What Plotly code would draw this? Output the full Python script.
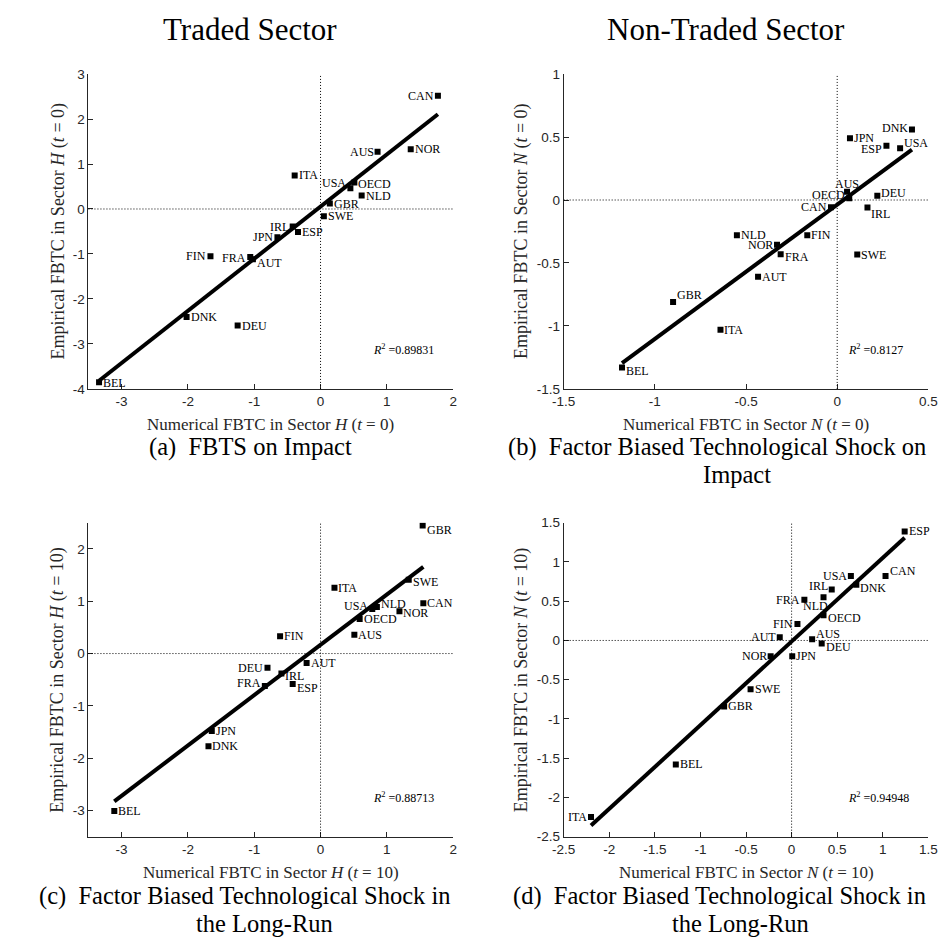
import numpy as np
import plotly.graph_objects as go

# ---------------- data ----------------
countries = ["AUS", "AUT", "BEL", "CAN", "DEU", "DNK", "ESP", "FIN", "FRA",
             "GBR", "IRL", "ITA", "JPN", "NLD", "NOR", "SWE", "USA", "OECD"]

# (a) Traded sector H, t = 0
num_H0 = [0.86, -1.02, -3.34, 1.77, -1.25, -2.02, -0.34, -1.66, -1.06,
          0.14, -0.42, -0.39, -0.65, 0.62, 1.36, 0.05, 0.45, 0.51]
emp_H0 = [1.27, -1.12, -3.85, 2.52, -2.59, -2.40, -0.51, -1.05, -1.07,
          0.12, -0.39, 0.745, -0.63, 0.30, 1.33, -0.16, 0.46, 0.59]

# (b) Non-traded sector N, t = 0
num_N0 = [0.054, -0.434, -1.18, -0.034, 0.22, 0.41, 0.27, -0.164, -0.31,
          -0.90, 0.166, -0.64, 0.07, -0.55, -0.33, 0.11, 0.345, 0.066]
emp_N0 = [0.065, -0.61, -1.33, -0.057, 0.034, 0.56, 0.43, -0.28, -0.43,
          -0.81, -0.06, -1.03, 0.49, -0.28, -0.355, -0.433, 0.41, 0.013]

# (c) Traded sector H, t = 10
num_H10 = [0.51, -0.21, -3.11, 1.55, -0.80, -1.69, -0.42, -0.61, -0.84,
           1.54, -0.59, 0.21, -1.64, 0.85, 1.19, 1.33, 0.78, 0.59]
emp_H10 = [0.36, -0.18, -3.01, 0.96, -0.27, -1.77, -0.58, 0.33, -0.62,
           2.45, -0.38, 1.26, -1.48, 0.89, 0.81, 1.41, 0.85, 0.66]

# (d) Non-traded sector N, t = 10
num_N10 = [0.225, -0.13, -1.27, 1.03, 0.33, 0.71, 1.24, 0.064, 0.14,
           -0.74, 0.44, -2.20, 0.007, 0.35, -0.23, -0.45, 0.65, 0.35]
emp_N10 = [0.017, 0.04, -1.58, 0.82, -0.04, 0.71, 1.39, 0.21, 0.52,
           -0.84, 0.65, -2.25, -0.20, 0.55, -0.20, -0.62, 0.82, 0.32]

r2_values = ["0.89831", "0.8127", "0.88713", "0.94948"]

ticks_H_x = [-3, -2, -1, 0, 1, 2]
ticks_H0_y = [-4, -3, -2, -1, 0, 1, 2, 3]
ticks_N0 = [-1.5, -1, -0.5, 0, 0.5, 1]
ticks_H10_y = [-3, -2, -1, 0, 1, 2]
ticks_N10 = [-2.5, -2, -1.5, -1, -0.5, 0, 0.5, 1, 1.5]

titles = ["Traded Sector", "Non-Traded Sector"]
captions = [
    ["(a)  FBTS on Impact"],
    ["(b)  Factor Biased Technological Shock on", "Impact"],
    ["(c)  Factor Biased Technological Shock in", "the Long-Run"],
    ["(d)  Factor Biased Technological Shock in", "the Long-Run"],
]

# ---------------- style ----------------
W, H = 946, 939
SERIF = "Liberation Serif, Times New Roman, serif"
SANS = "Liberation Sans, Arial, sans-serif"
AXC = "#262626"


def px(x):
    return x / W


def py(y):
    return 1 - y / H


# label placement: side (L/R/C/LB) and vertical shift in px
place = [
    {"CAN": ("L", 0), "AUS": ("L", 0), "USA": ("L", 5), "IRL": ("L", 0),
     "JPN": ("L", 0), "FIN": ("L", 0), "FRA": ("L", -1), "OECD": ("R", -2),
     "AUT": ("R", -4), "BEL": ("R", -1)},
    {"DNK": ("L", 1), "ESP": ("L", -3), "OECD": ("L", 3), "CAN": ("L", 0),
     "NOR": ("L", 0), "USA": ("R", 5), "DEU": ("R", 3), "IRL": ("R", -6),
     "FRA": ("R", -3), "GBR": ("R", 7), "BEL": ("R", -3), "AUS": ("C", 8)},
    {"USA": ("L", 3), "DEU": ("L", 0), "FRA": ("L", 3), "GBR": ("R", -5),
     "SWE": ("R", -2), "NLD": ("R", 3), "NOR": ("R", -2), "IRL": ("R", -3),
     "ESP": ("R", -4)},
    {"USA": ("L", 0), "IRL": ("L", 3), "FRA": ("L", 0), "FIN": ("L", 0),
     "AUT": ("L", 0), "NOR": ("L", 0), "ITA": ("L", 0), "CAN": ("R", 5),
     "DNK": ("R", -3), "OECD": ("R", -3), "AUS": ("R", 5), "DEU": ("R", -3),
     "NLD": ("LB", -9)},
]

panels = [
    dict(x=num_H0, y=emp_H0, xr=[-3.5, 2], yr=[-4, 3], xt=ticks_H_x, yt=ticks_H0_y,
         sec="H", t="0", dx=(70, 443), dy=(60, 380), ytx=39),
    dict(x=num_N0, y=emp_N0, xr=[-1.5, 0.5], yr=[-1.5, 1], xt=ticks_N0[:-1], yt=ticks_N0,
         sec="N", t="0", dx=(556, 929), dy=(60, 380), ytx=513),
    dict(x=num_H10, y=emp_H10, xr=[-3.5, 2], yr=[-3.5, 2.5], xt=ticks_H_x, yt=ticks_H10_y,
         sec="H", t="10", dx=(70, 443), dy=(516, 835), ytx=39),
    dict(x=num_N10, y=emp_N10, xr=[-2.5, 1.5], yr=[-2.5, 1.5], xt=ticks_N10, yt=ticks_N10,
         sec="N", t="10", dx=(556, 929), dy=(516, 835), ytx=513),
]


def fmt(v):
    return ("%g" % v)


fig = go.Figure()
annotations = []
shapes = []
layout_axes = {}

for i, p in enumerate(panels):
    n = "" if i == 0 else str(i + 1)
    xa, ya = "x" + n, "y" + n
    xs = np.array(p["x"], dtype=float)
    ys = np.array(p["y"], dtype=float)

    fig.add_trace(go.Scatter(
        x=xs, y=ys, mode="markers", xaxis=xa, yaxis=ya,
        marker=dict(symbol="square", size=6, color="black"),
        showlegend=False, hoverinfo="skip"))

    slope, icpt = np.polyfit(xs, ys, 1)
    lx = np.array([xs.min(), xs.max()])
    fig.add_trace(go.Scatter(
        x=lx, y=slope * lx + icpt, mode="lines", xaxis=xa, yaxis=ya,
        line=dict(color="black", width=4), showlegend=False, hoverinfo="skip"))

    # dotted zero lines
    shapes.append(dict(type="line", xref=xa, yref=ya + " domain", x0=0, x1=0, y0=0, y1=1,
                       line=dict(color="black", width=1, dash="1px,2px")))
    shapes.append(dict(type="line", xref=xa + " domain", yref=ya, x0=0, x1=1, y0=0, y1=0,
                       line=dict(color="black", width=1, dash="1px,2px")))

    # country labels
    for c, xv, yv in zip(countries, xs, ys):
        side, dyp = place[i].get(c, ("R", 0))
        if side == "R":
            anc, sh = "left", 3
        elif side == "L":
            anc, sh = "right", -3
        elif side == "C":
            anc, sh = "center", 0
        else:
            anc, sh = "right", 5
        annotations.append(dict(
            x=xv, y=yv, xref=xa, yref=ya, text=c, showarrow=False,
            xanchor=anc, yanchor="middle", xshift=sh, yshift=dyp,
            font=dict(family=SERIF, size=12, color="black"), borderpad=0))

    # R^2
    annotations.append(dict(
        x=0.775, y=0.125, xref=xa + " domain", yref=ya + " domain",
        text="<i>R</i><sup>2</sup> =" + r2_values[i], showarrow=False,
        xanchor="left", yanchor="middle",
        font=dict(family=SERIF, size=12, color="black")))

    # axis titles
    sec_t = "<i>%s</i> (<i>t</i> = %s)" % (p["sec"], p["t"])
    annotations.append(dict(
        x=px((p["dx"][0] + p["dx"][1]) / 2), y=py(p["dy"][1] + 36), xref="paper", yref="paper",
        text="Numerical FBTC in Sector " + sec_t, showarrow=False,
        xanchor="center", yanchor="middle",
        font=dict(family=SERIF, size=17, color=AXC)))
    annotations.append(dict(
        x=px(p["ytx"]), y=py((p["dy"][0] + p["dy"][1]) / 2), xref="paper", yref="paper",
        text="Empirical FBTC in Sector " + sec_t, showarrow=False, textangle=-90,
        xanchor="center", yanchor="middle",
        font=dict(family=SERIF, size=18, color=AXC)))

    axcommon = dict(showline=True, linecolor=AXC, linewidth=1, ticks="inside",
                    ticklen=5, tickcolor=AXC, tickwidth=1, showgrid=False,
                    zeroline=False, mirror=False,
                    tickfont=dict(family=SANS, size=13.5, color=AXC))
    layout_axes["xaxis" + n] = dict(
        axcommon, range=p["xr"], anchor=ya,
        domain=[px(p["dx"][0]), px(p["dx"][1])],
        tickvals=p["xt"], ticktext=[fmt(v) for v in p["xt"]])
    layout_axes["yaxis" + n] = dict(
        axcommon, range=p["yr"], anchor=xa,
        domain=[py(p["dy"][1]), py(p["dy"][0])],
        tickvals=p["yt"], ticktext=[fmt(v) for v in p["yt"]])

# panel captions
cap_pos = [(236, 439, None), (713, 439, (733, 467)), (230, 895, (250, 923)), (715, 895, (737, 923))]
for cap, (cx, cy, second) in zip(captions, cap_pos):
    annotations.append(dict(x=px(cx), y=py(cy), xref="paper", yref="paper", text=cap[0],
                            showarrow=False, xanchor="center", yanchor="middle",
                            font=dict(family=SERIF, size=24.5, color="black")))
    if second is not None:
        annotations.append(dict(x=px(second[0]), y=py(second[1]), xref="paper", yref="paper",
                                text=cap[1], showarrow=False, xanchor="center", yanchor="middle",
                                font=dict(family=SERIF, size=24.5, color="black")))

# column titles
for ttl, tx in zip(titles, (235, 722)):
    annotations.append(dict(x=px(tx), y=py(15), xref="paper", yref="paper", text=ttl,
                            showarrow=False, xanchor="center", yanchor="middle",
                            font=dict(family=SERIF, size=31, color="black")))

fig.update_layout(
    width=W, height=H, margin=dict(l=0, r=0, t=0, b=0),
    plot_bgcolor="white", paper_bgcolor="white",
    annotations=annotations, shapes=shapes, showlegend=False,
    **layout_axes)

fig.write_html("out.html")
